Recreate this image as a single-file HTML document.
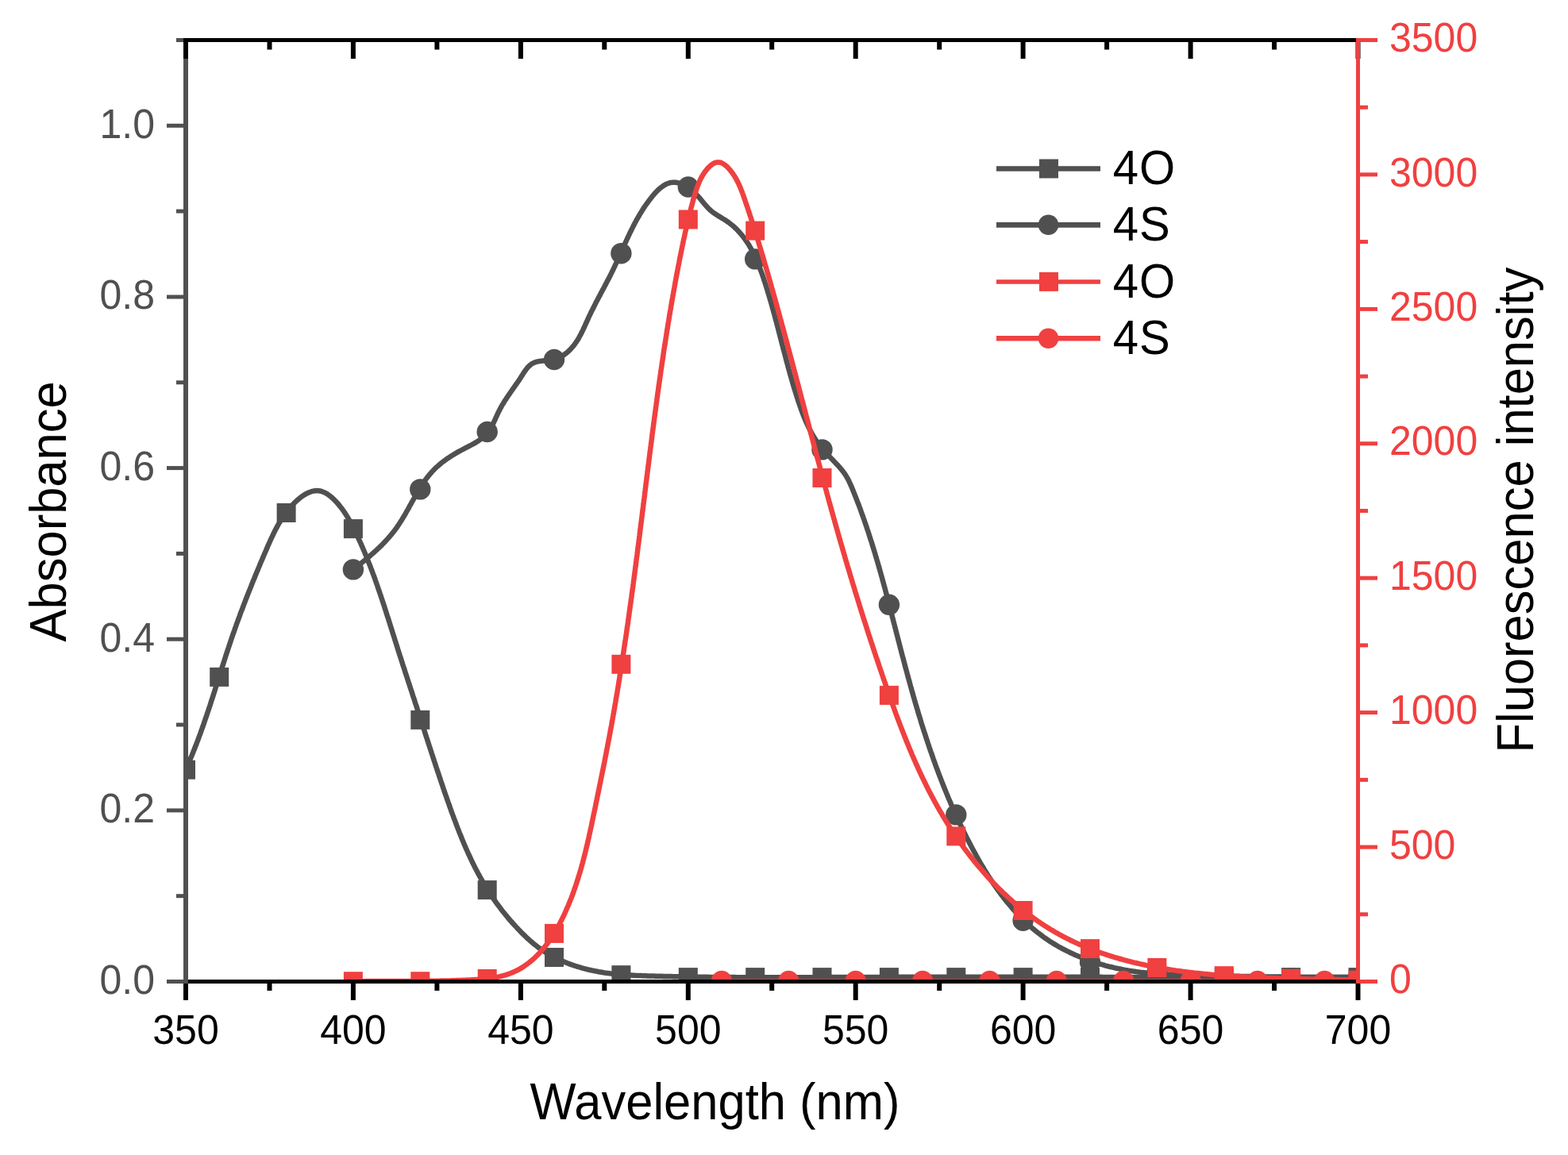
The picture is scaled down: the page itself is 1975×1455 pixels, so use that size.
<!DOCTYPE html>
<html><head><meta charset="utf-8"><title>Absorbance and Fluorescence</title><style>
html,body{margin:0;padding:0;background:#fff;overflow:hidden;}
svg{display:block;}
text{font-family:"Liberation Sans",Arial,sans-serif;}
</style></head><body>
<svg width="1975" height="1455" viewBox="0 0 1975 1455">
<rect width="1975" height="1455" fill="#fff"/>
<defs><clipPath id="pc"><rect x="234" y="50.5" width="1476.5" height="1186"/></clipPath></defs>

<g clip-path="url(#pc)">
<polyline points="233.8,969.6 234.6,967.8 235.5,965.9 236.3,964.1 237.1,962.3 237.9,960.4 238.7,958.6 239.5,956.8 240.2,954.9 241.0,953.1 241.8,951.2 242.5,949.4 243.3,947.5 244.0,945.7 244.8,943.8 245.5,942.0 246.2,940.1 247.0,938.3 247.7,936.4 248.4,934.5 249.1,932.7 249.8,930.8 250.5,928.9 251.2,927.0 251.9,925.2 252.6,923.3 253.2,921.4 253.9,919.5 254.6,917.6 255.3,915.8 255.9,913.9 256.6,912.0 257.2,910.1 257.9,908.2 258.5,906.3 259.2,904.4 259.8,902.5 260.5,900.7 261.1,898.8 261.7,896.9 262.4,895.0 263.0,893.1 263.6,891.2 264.3,889.3 264.9,887.4 265.5,885.5 266.1,883.6 266.7,881.7 267.3,879.8 268.0,877.9 268.6,876.0 269.2,874.1 269.8,872.2 270.4,870.3 271.0,868.4 271.6,866.4 272.2,864.5 272.8,862.6 273.4,860.7 274.0,858.8 274.6,856.9 275.2,855.0 275.8,853.1 276.4,851.2 277.0,849.3 277.6,847.4 278.2,845.5 278.8,843.6 279.4,841.7 280.0,839.8 280.7,837.9 281.3,836.0 281.9,834.1 282.5,832.2 283.1,830.3 283.7,828.4 284.3,826.5 284.9,824.6 285.6,822.7 286.2,820.8 286.8,818.9 287.4,817.0 288.1,815.1 288.7,813.2 289.3,811.3 290.0,809.4 290.6,807.5 291.2,805.6 291.9,803.7 292.5,801.8 293.2,799.9 293.8,798.0 294.5,796.2 295.2,794.3 295.8,792.4 296.5,790.5 297.2,788.6 297.8,786.7 298.5,784.9 299.2,783.0 299.9,781.1 300.6,779.2 301.3,777.4 302.0,775.5 302.6,773.6 303.3,771.7 304.0,769.9 304.8,768.0 305.5,766.1 306.2,764.3 306.9,762.4 307.6,760.5 308.3,758.7 309.0,756.8 309.7,754.9 310.5,753.1 311.2,751.2 311.9,749.3 312.7,747.5 313.4,745.6 314.1,743.8 314.9,741.9 315.6,740.1 316.4,738.2 317.1,736.3 317.8,734.5 318.6,732.6 319.3,730.8 320.1,728.9 320.9,727.1 321.6,725.2 322.4,723.4 323.1,721.5 323.9,719.7 324.7,717.9 325.4,716.0 326.2,714.2 327.0,712.3 327.7,710.5 328.5,708.6 329.3,706.8 330.1,705.0 330.9,703.1 331.6,701.3 332.4,699.4 333.2,697.6 334.0,695.8 334.8,693.9 335.6,692.1 336.4,690.3 337.1,688.4 337.9,686.6 338.8,684.8 339.6,682.9 340.4,681.1 341.2,679.3 342.1,677.5 342.9,675.7 343.8,673.9 344.6,672.1 345.5,670.3 346.4,668.5 347.3,666.7 348.3,665.0 349.2,663.2 350.2,661.4 351.2,659.7 352.2,658.0 353.2,656.3 354.3,654.6 355.3,652.9 356.4,651.2 357.5,649.6 358.7,647.9 359.9,646.3 361.1,644.7 362.3,643.1 363.5,641.6 364.8,640.0 366.1,638.5 367.5,637.0 368.8,635.6 370.2,634.1 371.6,632.7 373.1,631.4 374.6,630.0 376.1,628.7 377.6,627.5 379.2,626.2 380.8,625.0 382.5,623.9 384.2,622.9 385.9,621.9 387.7,621.0 389.5,620.2 391.4,619.5 393.3,618.9 395.3,618.5 397.2,618.2 399.2,618.1 401.2,618.2 403.2,618.5 405.1,619.0 407.0,619.7 408.9,620.5 410.6,621.4 412.3,622.4 414.0,623.6 415.6,624.8 417.1,626.0 418.6,627.3 420.1,628.7 421.5,630.1 422.9,631.5 424.3,633.0 425.6,634.5 426.9,636.0 428.1,637.6 429.4,639.2 430.6,640.7 431.8,642.4 432.9,644.0 434.0,645.6 435.1,647.3 436.2,649.0 437.3,650.7 438.3,652.4 439.3,654.1 440.3,655.9 441.2,657.6 442.2,659.4 443.1,661.2 444.0,662.9 445.0,664.7 445.9,666.5 446.7,668.3 447.6,670.1 448.5,671.9 449.4,673.7 450.2,675.5 451.1,677.3 451.9,679.1 452.7,680.9 453.6,682.7 454.4,684.6 455.2,686.4 456.0,688.2 456.8,690.0 457.6,691.9 458.4,693.7 459.2,695.6 459.9,697.4 460.7,699.2 461.5,701.1 462.2,702.9 462.9,704.8 463.7,706.7 464.4,708.5 465.2,710.4 465.9,712.2 466.6,714.1 467.3,716.0 468.0,717.8 468.7,719.7 469.4,721.6 470.1,723.5 470.8,725.3 471.5,727.2 472.2,729.1 472.8,731.0 473.5,732.9 474.2,734.7 474.8,736.6 475.5,738.5 476.1,740.4 476.8,742.3 477.4,744.2 478.1,746.1 478.7,748.0 479.4,749.9 480.0,751.7 480.6,753.6 481.3,755.5 481.9,757.4 482.5,759.3 483.1,761.2 483.8,763.1 484.4,765.0 485.0,766.9 485.6,768.8 486.2,770.7 486.8,772.6 487.4,774.5 488.0,776.4 488.7,778.3 489.3,780.3 489.9,782.2 490.5,784.1 491.1,786.0 491.7,787.9 492.3,789.8 492.9,791.7 493.5,793.6 494.1,795.5 494.7,797.4 495.3,799.3 495.9,801.2 496.5,803.1 497.1,805.0 497.7,806.9 498.3,808.8 498.9,810.7 499.5,812.6 500.1,814.5 500.7,816.5 501.3,818.4 501.9,820.3 502.5,822.2 503.1,824.1 503.7,826.0 504.4,827.9 505.0,829.8 505.6,831.7 506.2,833.6 506.8,835.5 507.4,837.4 508.0,839.3 508.7,841.2 509.3,843.1 509.9,845.0 510.5,846.9 511.1,848.8 511.7,850.7 512.4,852.6 513.0,854.5 513.6,856.4 514.2,858.3 514.8,860.2 515.5,862.1 516.1,864.0 516.7,865.9 517.3,867.8 518.0,869.7 518.6,871.6 519.2,873.5 519.8,875.4 520.4,877.3 521.1,879.2 521.7,881.1 522.3,883.0 522.9,884.9 523.5,886.8 524.2,888.7 524.8,890.6 525.4,892.5 526.0,894.4 526.7,896.3 527.3,898.2 527.9,900.1 528.5,902.0 529.1,903.9 529.7,905.8 530.4,907.7 531.0,909.6 531.6,911.5 532.2,913.4 532.8,915.3 533.5,917.2 534.1,919.1 534.7,921.0 535.3,922.9 535.9,924.8 536.5,926.7 537.1,928.6 537.8,930.5 538.4,932.4 539.0,934.3 539.6,936.2 540.2,938.1 540.8,940.0 541.5,941.9 542.1,943.8 542.7,945.7 543.3,947.6 543.9,949.5 544.6,951.4 545.2,953.3 545.8,955.2 546.4,957.1 547.0,959.0 547.7,960.9 548.3,962.8 548.9,964.7 549.5,966.6 550.2,968.5 550.8,970.4 551.4,972.3 552.1,974.1 552.7,976.0 553.3,977.9 554.0,979.8 554.6,981.7 555.2,983.6 555.9,985.5 556.5,987.4 557.2,989.3 557.8,991.2 558.4,993.1 559.1,995.0 559.7,996.9 560.4,998.8 561.0,1000.6 561.7,1002.5 562.4,1004.4 563.0,1006.3 563.7,1008.2 564.3,1010.1 565.0,1012.0 565.7,1013.8 566.3,1015.7 567.0,1017.6 567.7,1019.5 568.3,1021.4 569.0,1023.3 569.7,1025.1 570.4,1027.0 571.1,1028.9 571.8,1030.8 572.5,1032.6 573.2,1034.5 573.9,1036.4 574.6,1038.2 575.3,1040.1 576.0,1042.0 576.7,1043.8 577.5,1045.7 578.2,1047.6 578.9,1049.4 579.7,1051.3 580.4,1053.1 581.2,1055.0 581.9,1056.8 582.7,1058.7 583.5,1060.5 584.2,1062.4 585.0,1064.2 585.8,1066.0 586.6,1067.9 587.4,1069.7 588.2,1071.5 589.0,1073.3 589.8,1075.2 590.7,1077.0 591.5,1078.8 592.4,1080.6 593.2,1082.4 594.1,1084.2 594.9,1086.0 595.8,1087.8 596.7,1089.6 597.6,1091.4 598.5,1093.2 599.4,1094.9 600.3,1096.7 601.3,1098.5 602.2,1100.3 603.2,1102.0 604.1,1103.8 605.1,1105.5 606.1,1107.3 607.0,1109.0 608.0,1110.7 609.1,1112.5 610.1,1114.2 611.1,1115.9 612.1,1117.6 613.2,1119.3 614.2,1121.0 615.3,1122.7 616.4,1124.4 617.5,1126.0 618.6,1127.7 619.7,1129.4 620.8,1131.0 621.9,1132.7 623.1,1134.3 624.2,1135.9 625.4,1137.6 626.6,1139.2 627.8,1140.8 629.0,1142.4 630.2,1144.0 631.4,1145.6 632.6,1147.2 633.8,1148.7 635.1,1150.3 636.3,1151.8 637.6,1153.4 638.9,1154.9 640.1,1156.5 641.4,1158.0 642.7,1159.5 644.1,1161.0 645.4,1162.5 646.7,1164.0 648.1,1165.5 649.4,1166.9 650.8,1168.4 652.1,1169.9 653.5,1171.3 654.9,1172.7 656.3,1174.2 657.7,1175.6 659.1,1177.0 660.6,1178.4 662.0,1179.8 663.4,1181.2 664.9,1182.5 666.4,1183.9 667.9,1185.2 669.4,1186.5 670.9,1187.8 672.4,1189.1 674.0,1190.3 675.6,1191.6 677.1,1192.8 678.8,1194.0 680.4,1195.1 682.0,1196.3 683.7,1197.4 685.4,1198.5 687.0,1199.6 688.7,1200.6 690.5,1201.6 692.2,1202.6 693.9,1203.6 695.7,1204.6 697.4,1205.5 699.2,1206.4 701.0,1207.3 702.8,1208.2 704.6,1209.0 706.4,1209.9 708.3,1210.7 710.1,1211.4 712.0,1212.2 713.8,1212.9 715.7,1213.7 717.5,1214.4 719.4,1215.1 721.3,1215.7 723.2,1216.4 725.1,1217.0 727.0,1217.6 728.9,1218.2 730.8,1218.7 732.7,1219.3 734.7,1219.8 736.6,1220.3 738.5,1220.8 740.5,1221.3 742.4,1221.8 744.4,1222.2 746.3,1222.6 748.3,1223.0 750.2,1223.4 752.2,1223.8 754.2,1224.2 756.1,1224.5 758.1,1224.8 760.1,1225.2 762.1,1225.5 764.0,1225.7 766.0,1226.0 768.0,1226.3 770.0,1226.5 772.0,1226.7 774.0,1226.9 775.9,1227.1 777.9,1227.3 779.9,1227.5 781.9,1227.7 783.9,1227.8 785.9,1228.0 787.9,1228.1 789.9,1228.3 791.9,1228.4 793.9,1228.5 795.9,1228.6 797.9,1228.7 799.9,1228.8 801.9,1228.9 803.9,1229.0 805.8,1229.1 807.8,1229.1 809.8,1229.2 811.8,1229.3 813.8,1229.3 815.8,1229.4 817.8,1229.4 819.8,1229.5 821.8,1229.5 823.8,1229.6 825.8,1229.7 827.8,1229.7 829.8,1229.8 831.8,1229.8 833.8,1229.8 835.8,1229.9 837.8,1229.9 839.8,1230.0 841.8,1230.0 843.8,1230.1 845.8,1230.1 847.8,1230.2 849.8,1230.2 851.8,1230.2 853.8,1230.3 855.8,1230.3 857.8,1230.3 859.8,1230.4 861.8,1230.4 863.8,1230.4 865.8,1230.5 867.8,1230.5 869.8,1230.5 871.8,1230.6 873.8,1230.6 875.8,1230.6 877.8,1230.7 879.8,1230.7 881.8,1230.7 883.8,1230.7 885.8,1230.8 887.8,1230.8 889.8,1230.8 891.7,1230.8 893.7,1230.9 895.7,1230.9 897.7,1230.9 899.7,1230.9 901.7,1231.0 903.7,1231.0 905.7,1231.0 907.7,1231.0 909.7,1231.0 911.7,1231.0 913.7,1231.1 915.7,1231.1 917.7,1231.1 919.7,1231.1 921.7,1231.1 923.7,1231.1 925.7,1231.1 927.7,1231.2 929.7,1231.2 931.7,1231.2 933.7,1231.2 935.7,1231.2 937.7,1231.2 939.7,1231.2 941.7,1231.2 943.7,1231.2 945.7,1231.2 947.7,1231.2 949.7,1231.2 951.7,1231.3 953.7,1231.3 955.7,1231.3 957.7,1231.3 959.7,1231.3 961.7,1231.3 963.7,1231.3 965.7,1231.3 967.7,1231.3 969.7,1231.3 971.7,1231.3 973.7,1231.3 975.7,1231.3 977.7,1231.3 979.7,1231.3 981.7,1231.3 983.7,1231.3 985.7,1231.3 987.7,1231.3 989.7,1231.3 991.7,1231.3 993.7,1231.3 995.7,1231.3 997.7,1231.3 999.6,1231.3 1001.6,1231.3 1003.6,1231.3 1005.6,1231.3 1007.6,1231.2 1009.6,1231.2 1011.6,1231.2 1013.6,1231.2 1015.6,1231.2 1017.6,1231.2 1019.6,1231.2 1021.6,1231.2 1023.6,1231.2 1025.6,1231.2 1027.6,1231.2 1029.6,1231.2 1031.6,1231.2 1033.6,1231.2 1035.6,1231.2 1037.6,1231.2 1039.6,1231.2 1041.6,1231.1 1043.6,1231.1 1045.6,1231.1 1047.6,1231.1 1049.6,1231.1 1051.6,1231.1 1053.6,1231.1 1055.6,1231.1 1057.6,1231.1 1059.6,1231.1 1061.6,1231.1 1063.6,1231.1 1065.6,1231.0 1067.6,1231.0 1069.6,1231.0 1071.6,1231.0 1073.6,1231.0 1075.6,1231.0 1077.6,1231.0 1079.6,1231.0 1081.6,1231.0 1083.6,1231.0 1085.6,1231.0 1087.6,1231.0 1089.6,1231.0 1091.6,1230.9 1093.6,1230.9 1095.6,1230.9 1097.6,1230.9 1099.6,1230.9 1101.6,1230.9 1103.6,1230.9 1105.6,1230.9 1107.6,1230.9 1109.5,1230.9 1111.5,1230.9 1113.5,1230.9 1115.5,1230.9 1117.5,1230.9 1119.5,1230.9 1121.5,1230.8 1123.5,1230.8 1125.5,1230.8 1127.5,1230.8 1129.5,1230.8 1131.5,1230.8 1133.5,1230.8 1135.5,1230.8 1137.5,1230.8 1139.5,1230.8 1141.5,1230.8 1143.5,1230.8 1145.5,1230.8 1147.5,1230.8 1149.5,1230.8 1151.5,1230.8 1153.5,1230.8 1155.5,1230.8 1157.5,1230.8 1159.5,1230.8 1161.5,1230.8 1163.5,1230.8 1165.5,1230.8 1167.5,1230.7 1169.5,1230.7 1171.5,1230.7 1173.5,1230.7 1175.5,1230.7 1177.5,1230.7 1179.5,1230.7 1181.5,1230.7 1183.5,1230.7 1185.5,1230.7 1187.5,1230.7 1189.5,1230.7 1191.5,1230.7 1193.5,1230.7 1195.5,1230.7 1197.5,1230.7 1199.5,1230.7 1201.5,1230.7 1203.5,1230.7 1205.5,1230.7 1207.5,1230.7 1209.5,1230.7 1211.5,1230.7 1213.5,1230.7 1215.5,1230.7 1217.5,1230.7 1219.4,1230.7 1221.4,1230.7 1223.4,1230.7 1225.4,1230.7 1227.4,1230.7 1229.4,1230.7 1231.4,1230.7 1233.4,1230.7 1235.4,1230.7 1237.4,1230.7 1239.4,1230.7 1241.4,1230.7 1243.4,1230.7 1245.4,1230.7 1247.4,1230.7 1249.4,1230.7 1251.4,1230.7 1253.4,1230.7 1255.4,1230.7 1257.4,1230.7 1259.4,1230.7 1261.4,1230.7 1263.4,1230.7 1265.4,1230.7 1267.4,1230.7 1269.4,1230.7 1271.4,1230.7 1273.4,1230.7 1275.4,1230.7 1277.4,1230.7 1279.4,1230.7 1281.4,1230.7 1283.4,1230.7 1285.4,1230.7 1287.4,1230.7 1289.4,1230.7 1291.4,1230.7 1293.4,1230.7 1295.4,1230.7 1297.4,1230.7 1299.4,1230.7 1301.4,1230.7 1303.4,1230.7 1305.4,1230.7 1307.4,1230.7 1309.4,1230.7 1311.4,1230.7 1313.4,1230.7 1315.4,1230.7 1317.4,1230.8 1319.4,1230.8 1321.4,1230.8 1323.4,1230.8 1325.4,1230.8 1327.4,1230.8 1329.3,1230.8 1331.3,1230.8 1333.3,1230.8 1335.3,1230.8 1337.3,1230.8 1339.3,1230.8 1341.3,1230.8 1343.3,1230.8 1345.3,1230.8 1347.3,1230.8 1349.3,1230.8 1351.3,1230.8 1353.3,1230.8 1355.3,1230.8 1357.3,1230.8 1359.3,1230.8 1361.3,1230.8 1363.3,1230.8 1365.3,1230.8 1367.3,1230.8 1369.3,1230.8 1371.3,1230.8 1373.3,1230.8 1375.3,1230.8 1377.3,1230.8 1379.3,1230.8 1381.3,1230.8 1383.3,1230.8 1385.3,1230.8 1387.3,1230.8 1389.3,1230.9 1391.3,1230.9 1393.3,1230.9 1395.3,1230.9 1397.3,1230.9 1399.3,1230.9 1401.3,1230.9 1403.3,1230.9 1405.3,1230.9 1407.3,1230.9 1409.3,1230.9 1411.3,1230.9 1413.3,1230.9 1415.3,1230.9 1417.3,1230.9 1419.3,1230.9 1421.3,1230.9 1423.3,1230.9 1425.3,1230.9 1427.3,1230.9 1429.3,1230.9 1431.3,1230.9 1433.3,1230.9 1435.3,1230.9 1437.2,1230.9 1439.2,1230.9 1441.2,1230.9 1443.2,1230.9 1445.2,1230.9 1447.2,1230.9 1449.2,1230.9 1451.2,1230.9 1453.2,1231.0 1455.2,1231.0 1457.2,1231.0 1459.2,1231.0 1461.2,1231.0 1463.2,1231.0 1465.2,1231.0 1467.2,1231.0 1469.2,1231.0 1471.2,1231.0 1473.2,1231.0 1475.2,1231.0 1477.2,1231.0 1479.2,1231.0 1481.2,1231.0 1483.2,1231.0 1485.2,1231.0 1487.2,1231.0 1489.2,1231.0 1491.2,1231.0 1493.2,1231.0 1495.2,1231.0 1497.2,1231.0 1499.2,1231.0 1501.2,1231.0 1503.2,1231.0 1505.2,1231.0 1507.2,1231.0 1509.2,1231.0 1511.2,1231.0 1513.2,1231.0 1515.2,1231.0 1517.2,1231.0 1519.2,1231.0 1521.2,1231.0 1523.2,1231.0 1525.2,1231.0 1527.2,1231.0 1529.2,1231.0 1531.2,1231.0 1533.2,1231.0 1535.2,1231.0 1537.2,1231.1 1539.2,1231.1 1541.2,1231.1 1543.2,1231.1 1545.2,1231.1 1547.1,1231.1 1549.1,1231.1 1551.1,1231.1 1553.1,1231.1 1555.1,1231.1 1557.1,1231.1 1559.1,1231.1 1561.1,1231.1 1563.1,1231.1 1565.1,1231.1 1567.1,1231.1 1569.1,1231.1 1571.1,1231.1 1573.1,1231.1 1575.1,1231.1 1577.1,1231.1 1579.1,1231.1 1581.1,1231.1 1583.1,1231.1 1585.1,1231.1 1587.1,1231.1 1589.1,1231.1 1591.1,1231.1 1593.1,1231.1 1595.1,1231.1 1597.1,1231.1 1599.1,1231.1 1601.1,1231.1 1603.1,1231.1 1605.1,1231.1 1607.1,1231.1 1609.1,1231.1 1611.1,1231.1 1613.1,1231.1 1615.1,1231.1 1617.1,1231.1 1619.1,1231.1 1621.1,1231.1 1623.1,1231.0 1625.1,1231.0 1627.1,1231.0 1629.1,1231.0 1631.1,1231.0 1633.1,1231.0 1635.1,1231.0 1637.1,1231.0 1639.1,1231.0 1641.1,1231.0 1643.1,1231.0 1645.1,1231.0 1647.1,1231.0 1649.1,1231.0 1651.1,1231.0 1653.1,1231.0 1655.1,1231.0 1657.0,1231.0 1659.0,1231.0 1661.0,1231.0 1663.0,1231.0 1665.0,1231.0 1667.0,1231.0 1669.0,1231.0 1671.0,1231.0 1673.0,1231.0 1675.0,1231.0 1677.0,1231.0 1679.0,1231.0 1681.0,1231.0 1683.0,1231.0 1685.0,1230.9 1687.0,1230.9 1689.0,1230.9 1691.0,1230.9 1693.0,1230.9 1695.0,1230.9 1697.0,1230.9 1699.0,1230.9 1701.0,1230.9 1703.0,1230.9 1705.0,1230.9 1707.0,1230.9 1709.0,1230.9 1711.0,1230.9" fill="none" stroke="#505050" stroke-width="6.5" stroke-linejoin="round"/>
<rect x="222.0" y="957.7" width="24" height="24" fill="#505050"/><rect x="264.2" y="840.9" width="24" height="24" fill="#505050"/><rect x="348.6" y="634.0" width="24" height="24" fill="#505050"/><rect x="432.9" y="654.1" width="24" height="24" fill="#505050"/><rect x="517.3" y="894.9" width="24" height="24" fill="#505050"/><rect x="601.7" y="1109.1" width="24" height="24" fill="#505050"/><rect x="686.0" y="1194.0" width="24" height="24" fill="#505050"/><rect x="770.4" y="1216.2" width="24" height="24" fill="#505050"/><rect x="854.8" y="1219.1" width="24" height="24" fill="#505050"/><rect x="939.2" y="1219.1" width="24" height="24" fill="#505050"/><rect x="1023.5" y="1219.1" width="24" height="24" fill="#505050"/><rect x="1107.9" y="1219.1" width="24" height="24" fill="#505050"/><rect x="1192.3" y="1219.1" width="24" height="24" fill="#505050"/><rect x="1276.6" y="1219.1" width="24" height="24" fill="#505050"/><rect x="1361.0" y="1219.1" width="24" height="24" fill="#505050"/><rect x="1445.4" y="1219.1" width="24" height="24" fill="#505050"/><rect x="1529.8" y="1219.1" width="24" height="24" fill="#505050"/><rect x="1614.1" y="1219.1" width="24" height="24" fill="#505050"/><rect x="1698.5" y="1219.1" width="24" height="24" fill="#505050"/>
<polyline points="444.9,717.4 446.4,716.1 448.0,714.9 449.6,713.7 451.1,712.4 452.7,711.2 454.3,709.9 455.8,708.7 457.4,707.4 458.9,706.2 460.5,704.9 462.0,703.6 463.6,702.3 465.1,701.0 466.6,699.7 468.1,698.4 469.6,697.1 471.1,695.8 472.6,694.4 474.1,693.1 475.5,691.7 477.0,690.4 478.4,689.0 479.9,687.6 481.3,686.2 482.7,684.8 484.1,683.3 485.5,681.9 486.8,680.4 488.2,678.9 489.5,677.4 490.8,675.9 492.1,674.4 493.4,672.9 494.6,671.3 495.9,669.7 497.1,668.1 498.3,666.5 499.5,664.9 500.6,663.3 501.7,661.6 502.8,660.0 503.9,658.3 505.0,656.6 506.1,654.9 507.1,653.2 508.1,651.5 509.2,649.8 510.2,648.0 511.2,646.3 512.1,644.6 513.1,642.8 514.1,641.1 515.1,639.3 516.0,637.6 517.0,635.8 518.0,634.1 518.9,632.3 519.9,630.6 520.9,628.8 521.9,627.1 522.8,625.3 523.8,623.6 524.8,621.9 525.8,620.1 526.8,618.4 527.9,616.7 528.9,615.0 530.0,613.3 531.1,611.6 532.1,609.9 533.3,608.3 534.4,606.6 535.5,605.0 536.7,603.4 537.9,601.8 539.1,600.2 540.4,598.6 541.7,597.1 543.0,595.6 544.3,594.1 545.7,592.6 547.1,591.2 548.5,589.8 550.0,588.4 551.5,587.1 553.0,585.8 554.5,584.5 556.0,583.2 557.6,582.0 559.2,580.8 560.8,579.6 562.5,578.4 564.1,577.3 565.8,576.2 567.4,575.1 569.1,574.0 570.8,573.0 572.5,571.9 574.3,570.9 576.0,569.9 577.7,568.9 579.5,568.0 581.3,567.0 583.0,566.1 584.8,565.2 586.6,564.2 588.3,563.3 590.1,562.4 591.9,561.5 593.7,560.5 595.4,559.6 597.2,558.6 598.9,557.6 600.6,556.6 602.3,555.5 603.9,554.4 605.6,553.2 607.1,552.0 608.7,550.7 610.2,549.4 611.6,548.0 613.0,546.5 614.2,545.0 615.4,543.4 616.6,541.7 617.7,540.0 618.7,538.3 619.6,536.6 620.6,534.8 621.5,533.0 622.3,531.2 623.2,529.4 624.0,527.6 624.8,525.7 625.7,523.9 626.5,522.1 627.3,520.3 628.2,518.5 629.1,516.7 630.0,514.9 631.0,513.2 631.9,511.4 632.9,509.7 634.0,508.0 635.0,506.3 636.1,504.6 637.2,502.9 638.3,501.2 639.4,499.6 640.5,497.9 641.6,496.3 642.8,494.6 643.9,493.0 645.1,491.3 646.2,489.7 647.4,488.1 648.5,486.4 649.7,484.8 650.8,483.2 652.0,481.5 653.1,479.9 654.2,478.2 655.3,476.5 656.4,474.8 657.4,473.2 658.5,471.5 659.6,469.8 660.7,468.1 661.9,466.5 663.1,464.9 664.3,463.3 665.7,461.8 667.1,460.5 668.6,459.2 670.3,458.1 672.1,457.2 673.9,456.4 675.8,455.8 677.8,455.4 679.8,455.0 681.7,454.8 683.7,454.5 685.7,454.4 687.7,454.2 689.7,454.0 691.7,453.8 693.7,453.5 695.7,453.2 697.6,452.8 699.5,452.3 701.4,451.7 703.3,450.9 705.1,450.1 706.9,449.2 708.6,448.1 710.3,447.1 711.9,445.9 713.5,444.7 715.0,443.4 716.5,442.0 717.9,440.6 719.3,439.2 720.6,437.7 721.9,436.1 723.2,434.6 724.3,433.0 725.5,431.3 726.6,429.7 727.7,428.0 728.7,426.3 729.7,424.5 730.6,422.8 731.6,421.0 732.5,419.2 733.4,417.4 734.3,415.6 735.1,413.8 736.0,412.0 736.8,410.2 737.6,408.4 738.4,406.5 739.3,404.7 740.1,402.9 740.9,401.1 741.7,399.3 742.6,397.4 743.5,395.6 744.3,393.8 745.2,392.0 746.1,390.3 747.0,388.5 747.9,386.7 748.8,384.9 749.7,383.1 750.6,381.3 751.5,379.6 752.5,377.8 753.4,376.0 754.3,374.2 755.3,372.5 756.2,370.7 757.1,368.9 758.1,367.2 759.0,365.4 760.0,363.6 760.9,361.9 761.8,360.1 762.8,358.3 763.7,356.6 764.6,354.8 765.5,353.0 766.5,351.3 767.4,349.5 768.3,347.7 769.2,345.9 770.1,344.1 771.0,342.3 771.9,340.5 772.7,338.7 773.6,336.9 774.4,335.1 775.3,333.3 776.1,331.5 777.0,329.7 777.8,327.9 778.6,326.0 779.5,324.2 780.3,322.4 781.1,320.6 781.9,318.7 782.7,316.9 783.5,315.1 784.4,313.3 785.2,311.4 786.0,309.6 786.8,307.8 787.6,306.0 788.5,304.1 789.3,302.3 790.1,300.5 791.0,298.7 791.8,296.9 792.7,295.1 793.5,293.3 794.4,291.5 795.3,289.7 796.2,287.9 797.1,286.1 798.0,284.3 798.9,282.5 799.8,280.8 800.8,279.0 801.7,277.3 802.7,275.5 803.7,273.8 804.7,272.0 805.7,270.3 806.7,268.6 807.8,266.9 808.9,265.2 809.9,263.5 811.0,261.8 812.1,260.2 813.3,258.5 814.4,256.9 815.6,255.3 816.8,253.6 818.0,252.0 819.2,250.5 820.4,248.9 821.7,247.3 822.9,245.8 824.2,244.3 825.6,242.8 827.0,241.3 828.4,239.9 829.8,238.5 831.3,237.2 832.9,236.0 834.5,234.8 836.1,233.6 837.9,232.6 839.6,231.7 841.5,231.0 843.4,230.4 845.3,229.9 847.3,229.7 849.3,229.7 851.3,229.8 853.3,230.2 855.2,230.7 857.1,231.3 859.0,232.0 860.8,232.9 862.6,233.8 864.3,234.8 866.0,235.9 867.6,237.0 869.3,238.2 870.8,239.4 872.4,240.7 873.9,242.0 875.3,243.4 876.8,244.7 878.2,246.2 879.6,247.6 880.9,249.1 882.2,250.6 883.5,252.2 884.7,253.7 886.0,255.3 887.3,256.8 888.6,258.3 889.9,259.8 891.2,261.3 892.6,262.8 894.1,264.2 895.5,265.5 897.1,266.8 898.7,268.0 900.3,269.1 902.0,270.2 903.7,271.3 905.4,272.4 907.1,273.4 908.8,274.4 910.5,275.5 912.2,276.5 913.9,277.6 915.6,278.7 917.2,279.8 918.8,281.0 920.4,282.3 921.9,283.5 923.5,284.8 925.0,286.1 926.4,287.5 927.9,288.9 929.3,290.3 930.6,291.8 932.0,293.3 933.3,294.8 934.6,296.3 935.8,297.9 937.0,299.5 938.2,301.1 939.4,302.7 940.5,304.4 941.6,306.0 942.7,307.7 943.7,309.4 944.7,311.1 945.7,312.9 946.7,314.6 947.6,316.4 948.5,318.2 949.4,320.0 950.3,321.8 951.2,323.6 952.0,325.4 952.8,327.2 953.6,329.0 954.4,330.9 955.1,332.7 955.9,334.6 956.6,336.5 957.3,338.3 958.0,340.2 958.7,342.1 959.4,344.0 960.1,345.8 960.7,347.7 961.4,349.6 962.0,351.5 962.6,353.4 963.3,355.3 963.9,357.2 964.5,359.1 965.1,361.0 965.7,362.9 966.3,364.9 966.9,366.8 967.4,368.7 968.0,370.6 968.6,372.5 969.2,374.4 969.7,376.3 970.3,378.3 970.9,380.2 971.4,382.1 972.0,384.0 972.5,386.0 973.0,387.9 973.6,389.8 974.1,391.7 974.6,393.7 975.2,395.6 975.7,397.5 976.2,399.5 976.7,401.4 977.2,403.3 977.8,405.3 978.3,407.2 978.8,409.1 979.3,411.1 979.8,413.0 980.3,414.9 980.8,416.9 981.3,418.8 981.8,420.7 982.3,422.7 982.8,424.6 983.3,426.5 983.8,428.5 984.3,430.4 984.8,432.3 985.3,434.3 985.8,436.2 986.3,438.1 986.8,440.1 987.4,442.0 987.9,444.0 988.4,445.9 988.9,447.8 989.4,449.8 989.9,451.7 990.4,453.6 990.9,455.6 991.4,457.5 992.0,459.4 992.5,461.4 993.0,463.3 993.5,465.2 994.1,467.1 994.6,469.1 995.1,471.0 995.7,472.9 996.2,474.8 996.8,476.8 997.3,478.7 997.9,480.6 998.4,482.5 999.0,484.4 999.6,486.4 1000.1,488.3 1000.7,490.2 1001.3,492.1 1001.9,494.0 1002.5,495.9 1003.1,497.8 1003.7,499.7 1004.3,501.6 1004.9,503.6 1005.5,505.5 1006.2,507.3 1006.8,509.2 1007.5,511.1 1008.1,513.0 1008.8,514.9 1009.5,516.8 1010.2,518.7 1010.9,520.5 1011.6,522.4 1012.3,524.3 1013.1,526.1 1013.9,528.0 1014.6,529.8 1015.4,531.6 1016.3,533.5 1017.1,535.3 1018.0,537.1 1018.8,538.9 1019.7,540.7 1020.6,542.4 1021.6,544.2 1022.6,546.0 1023.5,547.7 1024.5,549.4 1025.6,551.1 1026.6,552.8 1027.7,554.5 1028.8,556.2 1030.0,557.8 1031.1,559.5 1032.3,561.1 1033.5,562.6 1034.8,564.2 1036.1,565.8 1037.4,567.3 1038.7,568.8 1040.0,570.2 1041.4,571.7 1042.8,573.2 1044.2,574.6 1045.6,576.0 1047.0,577.5 1048.4,578.9 1049.7,580.3 1051.1,581.8 1052.5,583.2 1053.9,584.7 1055.3,586.1 1056.6,587.6 1057.9,589.1 1059.2,590.6 1060.5,592.2 1061.7,593.8 1062.9,595.4 1064.1,597.0 1065.2,598.7 1066.2,600.4 1067.2,602.1 1068.2,603.9 1069.1,605.6 1069.9,607.4 1070.8,609.3 1071.6,611.1 1072.4,612.9 1073.2,614.8 1073.9,616.6 1074.7,618.5 1075.4,620.3 1076.2,622.2 1076.9,624.0 1077.7,625.9 1078.4,627.8 1079.1,629.6 1079.8,631.5 1080.5,633.4 1081.3,635.2 1082.0,637.1 1082.7,639.0 1083.4,640.8 1084.1,642.7 1084.7,644.6 1085.4,646.5 1086.1,648.4 1086.8,650.2 1087.4,652.1 1088.1,654.0 1088.8,655.9 1089.4,657.8 1090.1,659.7 1090.7,661.6 1091.4,663.5 1092.0,665.4 1092.6,667.3 1093.3,669.2 1093.9,671.1 1094.5,673.0 1095.1,674.9 1095.7,676.8 1096.3,678.7 1096.9,680.6 1097.6,682.5 1098.2,684.4 1098.7,686.3 1099.3,688.2 1099.9,690.1 1100.5,692.0 1101.1,693.9 1101.7,695.9 1102.3,697.8 1102.8,699.7 1103.4,701.6 1104.0,703.5 1104.5,705.4 1105.1,707.4 1105.7,709.3 1106.2,711.2 1106.8,713.1 1107.3,715.1 1107.9,717.0 1108.4,718.9 1109.0,720.8 1109.5,722.8 1110.0,724.7 1110.6,726.6 1111.1,728.5 1111.6,730.5 1112.2,732.4 1112.7,734.3 1113.2,736.2 1113.7,738.2 1114.3,740.1 1114.8,742.0 1115.3,744.0 1115.8,745.9 1116.3,747.8 1116.9,749.8 1117.4,751.7 1117.9,753.6 1118.4,755.6 1118.9,757.5 1119.4,759.4 1119.9,761.4 1120.4,763.3 1120.9,765.2 1121.4,767.2 1121.9,769.1 1122.4,771.0 1122.9,773.0 1123.4,774.9 1123.9,776.9 1124.4,778.8 1124.9,780.7 1125.4,782.7 1125.9,784.6 1126.4,786.5 1126.9,788.5 1127.4,790.4 1127.9,792.3 1128.4,794.3 1128.9,796.2 1129.4,798.2 1129.9,800.1 1130.4,802.0 1130.9,804.0 1131.4,805.9 1131.9,807.8 1132.4,809.8 1132.9,811.7 1133.4,813.7 1133.9,815.6 1134.4,817.5 1134.9,819.5 1135.4,821.4 1135.9,823.3 1136.4,825.3 1136.9,827.2 1137.5,829.1 1138.0,831.1 1138.5,833.0 1139.0,834.9 1139.5,836.9 1140.0,838.8 1140.5,840.7 1141.0,842.7 1141.6,844.6 1142.1,846.5 1142.6,848.5 1143.1,850.4 1143.6,852.3 1144.2,854.3 1144.7,856.2 1145.2,858.1 1145.8,860.0 1146.3,862.0 1146.8,863.9 1147.4,865.8 1147.9,867.7 1148.4,869.7 1149.0,871.6 1149.5,873.5 1150.1,875.4 1150.6,877.4 1151.2,879.3 1151.7,881.2 1152.3,883.1 1152.8,885.1 1153.4,887.0 1154.0,888.9 1154.5,890.8 1155.1,892.7 1155.7,894.6 1156.2,896.6 1156.8,898.5 1157.4,900.4 1158.0,902.3 1158.6,904.2 1159.2,906.1 1159.7,908.0 1160.3,910.0 1160.9,911.9 1161.5,913.8 1162.1,915.7 1162.7,917.6 1163.3,919.5 1163.9,921.4 1164.6,923.3 1165.2,925.2 1165.8,927.1 1166.4,929.0 1167.0,930.9 1167.7,932.8 1168.3,934.7 1168.9,936.6 1169.6,938.5 1170.2,940.4 1170.8,942.3 1171.5,944.2 1172.1,946.1 1172.8,948.0 1173.5,949.8 1174.1,951.7 1174.8,953.6 1175.4,955.5 1176.1,957.4 1176.8,959.3 1177.5,961.2 1178.1,963.0 1178.8,964.9 1179.5,966.8 1180.2,968.7 1180.9,970.5 1181.6,972.4 1182.3,974.3 1183.0,976.2 1183.7,978.0 1184.5,979.9 1185.2,981.8 1185.9,983.6 1186.6,985.5 1187.4,987.4 1188.1,989.2 1188.8,991.1 1189.6,992.9 1190.3,994.8 1191.1,996.6 1191.8,998.5 1192.6,1000.3 1193.4,1002.2 1194.1,1004.0 1194.9,1005.9 1195.7,1007.7 1196.5,1009.6 1197.3,1011.4 1198.0,1013.2 1198.8,1015.1 1199.6,1016.9 1200.4,1018.7 1201.3,1020.6 1202.1,1022.4 1202.9,1024.2 1203.7,1026.0 1204.5,1027.9 1205.4,1029.7 1206.2,1031.5 1207.1,1033.3 1207.9,1035.1 1208.7,1036.9 1209.6,1038.7 1210.5,1040.5 1211.3,1042.3 1212.2,1044.1 1213.1,1045.9 1214.0,1047.7 1214.8,1049.5 1215.7,1051.3 1216.6,1053.1 1217.5,1054.9 1218.4,1056.7 1219.3,1058.5 1220.3,1060.2 1221.2,1062.0 1222.1,1063.8 1223.0,1065.6 1224.0,1067.3 1224.9,1069.1 1225.8,1070.9 1226.8,1072.6 1227.8,1074.4 1228.7,1076.1 1229.7,1077.9 1230.7,1079.6 1231.6,1081.4 1232.6,1083.1 1233.6,1084.8 1234.6,1086.6 1235.6,1088.3 1236.6,1090.0 1237.7,1091.7 1238.7,1093.5 1239.7,1095.2 1240.8,1096.9 1241.8,1098.6 1242.9,1100.3 1244.0,1102.0 1245.0,1103.6 1246.1,1105.3 1247.2,1107.0 1248.3,1108.7 1249.4,1110.3 1250.5,1112.0 1251.6,1113.7 1252.8,1115.3 1253.9,1116.9 1255.1,1118.6 1256.2,1120.2 1257.4,1121.8 1258.6,1123.5 1259.8,1125.1 1261.0,1126.7 1262.2,1128.3 1263.4,1129.9 1264.6,1131.4 1265.8,1133.0 1267.1,1134.6 1268.3,1136.1 1269.6,1137.7 1270.9,1139.2 1272.2,1140.7 1273.5,1142.3 1274.8,1143.8 1276.1,1145.3 1277.4,1146.8 1278.8,1148.3 1280.1,1149.7 1281.5,1151.2 1282.9,1152.6 1284.2,1154.1 1285.6,1155.5 1287.0,1156.9 1288.5,1158.4 1289.9,1159.7 1291.3,1161.1 1292.8,1162.5 1294.3,1163.9 1295.7,1165.2 1297.2,1166.5 1298.7,1167.9 1300.2,1169.2 1301.8,1170.5 1303.3,1171.8 1304.8,1173.0 1306.4,1174.3 1308.0,1175.5 1309.6,1176.7 1311.2,1177.9 1312.8,1179.1 1314.4,1180.3 1316.0,1181.5 1317.6,1182.6 1319.3,1183.7 1321.0,1184.9 1322.6,1185.9 1324.3,1187.0 1326.0,1188.1 1327.7,1189.1 1329.4,1190.2 1331.2,1191.2 1332.9,1192.2 1334.6,1193.2 1336.4,1194.1 1338.1,1195.1 1339.9,1196.0 1341.7,1196.9 1343.5,1197.8 1345.3,1198.7 1347.1,1199.6 1348.9,1200.5 1350.7,1201.3 1352.5,1202.1 1354.3,1203.0 1356.2,1203.8 1358.0,1204.5 1359.8,1205.3 1361.7,1206.1 1363.5,1206.8 1365.4,1207.5 1367.3,1208.3 1369.1,1209.0 1371.0,1209.6 1372.9,1210.3 1374.8,1211.0 1376.7,1211.6 1378.6,1212.2 1380.5,1212.9 1382.4,1213.5 1384.3,1214.0 1386.2,1214.6 1388.2,1215.2 1390.1,1215.7 1392.0,1216.3 1393.9,1216.8 1395.9,1217.3 1397.8,1217.8 1399.8,1218.2 1401.7,1218.7 1403.6,1219.2 1405.6,1219.6 1407.6,1220.0 1409.5,1220.4 1411.5,1220.8 1413.4,1221.2 1415.4,1221.6 1417.4,1222.0 1419.3,1222.3 1421.3,1222.6 1423.3,1223.0 1425.3,1223.3 1427.2,1223.6 1429.2,1223.8 1431.2,1224.1 1433.2,1224.4 1435.2,1224.6 1437.1,1224.9 1439.1,1225.1 1441.1,1225.3 1443.1,1225.5 1445.1,1225.7 1447.1,1225.9 1449.1,1226.1 1451.1,1226.3 1453.1,1226.5 1455.1,1226.6 1457.1,1226.8 1459.1,1226.9 1461.0,1227.0 1463.0,1227.2 1465.0,1227.3 1467.0,1227.4 1469.0,1227.5 1471.0,1227.6 1473.0,1227.7 1475.0,1227.8 1477.0,1227.9 1479.0,1228.0 1481.0,1228.0 1483.0,1228.1 1485.0,1228.2 1487.0,1228.2 1489.0,1228.3 1491.0,1228.3 1493.0,1228.4 1495.0,1228.5 1497.0,1228.5 1499.0,1228.6 1501.0,1228.6 1503.0,1228.6 1505.0,1228.7 1507.0,1228.7 1509.0,1228.8 1511.0,1228.8 1513.0,1228.9 1515.0,1228.9 1517.0,1228.9 1519.0,1229.0 1521.0,1229.0 1523.0,1229.1 1525.0,1229.1 1527.0,1229.2 1529.0,1229.2 1531.0,1229.2 1533.0,1229.3 1535.0,1229.3 1537.0,1229.4 1539.0,1229.4 1541.0,1229.4 1543.0,1229.5 1545.0,1229.5 1547.0,1229.6 1549.0,1229.6 1551.0,1229.6 1553.0,1229.7 1555.0,1229.7 1557.0,1229.8 1559.0,1229.8 1561.0,1229.8 1563.0,1229.9 1565.0,1229.9 1567.0,1229.9 1569.0,1230.0 1571.0,1230.0 1573.0,1230.0 1575.0,1230.1 1577.0,1230.1 1579.0,1230.1 1581.0,1230.2 1583.0,1230.2 1585.0,1230.2 1587.0,1230.3 1589.0,1230.3 1591.0,1230.3 1593.0,1230.4 1595.0,1230.4 1597.0,1230.4 1599.0,1230.5 1601.0,1230.5 1603.0,1230.5 1605.0,1230.5 1607.0,1230.6 1609.0,1230.6 1611.0,1230.6 1613.0,1230.6 1615.0,1230.7 1617.0,1230.7 1619.0,1230.7 1621.0,1230.7 1623.0,1230.7 1625.0,1230.8 1627.0,1230.8 1629.0,1230.8 1631.0,1230.8 1633.0,1230.8 1635.0,1230.9 1637.0,1230.9 1639.0,1230.9 1641.0,1230.9 1643.0,1230.9 1645.0,1230.9 1647.0,1230.9 1649.0,1230.9 1651.0,1231.0 1653.0,1231.0 1655.0,1231.0 1657.0,1231.0 1659.0,1231.0 1661.0,1231.0 1663.0,1231.0 1665.0,1231.0 1667.0,1231.0 1669.0,1231.0 1671.0,1231.0 1673.0,1231.0 1675.0,1231.0 1677.0,1231.0 1679.0,1231.0 1681.0,1231.0 1683.0,1231.0 1685.0,1231.0 1687.0,1231.0 1689.0,1231.0 1691.0,1230.9 1693.0,1230.9 1695.0,1230.9 1697.0,1230.9 1699.0,1230.9 1701.0,1230.9 1703.0,1230.9 1705.0,1230.8 1707.0,1230.8 1709.0,1230.8 1711.0,1230.8" fill="none" stroke="#505050" stroke-width="6.5" stroke-linejoin="round"/>
<circle cx="444.9" cy="717.4" r="13.2" fill="#505050"/><circle cx="529.3" cy="616.4" r="13.2" fill="#505050"/><circle cx="613.7" cy="544.0" r="13.2" fill="#505050"/><circle cx="698.0" cy="453.0" r="13.2" fill="#505050"/><circle cx="782.4" cy="319.2" r="13.2" fill="#505050"/><circle cx="866.8" cy="235.5" r="13.2" fill="#505050"/><circle cx="951.2" cy="326.4" r="13.2" fill="#505050"/><circle cx="1035.5" cy="566.4" r="13.2" fill="#505050"/><circle cx="1119.9" cy="761.8" r="13.2" fill="#505050"/><circle cx="1204.3" cy="1026.4" r="13.2" fill="#505050"/><circle cx="1288.6" cy="1159.7" r="13.2" fill="#505050"/><circle cx="1373.0" cy="1212.0" r="13.2" fill="#505050"/><circle cx="1457.4" cy="1225.5" r="13.2" fill="#505050"/><circle cx="1541.8" cy="1231.5" r="13.2" fill="#505050"/><circle cx="1626.1" cy="1232.5" r="13.2" fill="#505050"/><circle cx="1710.5" cy="1232.5" r="13.2" fill="#505050"/>
<polyline points="444.9,1236.3 446.9,1236.3 448.9,1236.3 450.9,1236.2 452.9,1236.2 454.9,1236.2 456.9,1236.2 458.9,1236.2 460.9,1236.1 462.9,1236.1 464.9,1236.1 466.9,1236.1 468.9,1236.1 470.9,1236.1 472.9,1236.1 474.9,1236.1 476.9,1236.0 478.8,1236.0 480.8,1236.0 482.8,1236.0 484.8,1236.0 486.8,1236.0 488.8,1236.0 490.8,1236.0 492.8,1236.0 494.8,1236.0 496.8,1236.0 498.8,1236.0 500.8,1236.0 502.8,1236.0 504.8,1236.0 506.8,1236.0 508.8,1236.0 510.8,1236.0 512.8,1236.0 514.8,1236.0 516.8,1236.0 518.8,1236.0 520.8,1236.0 522.8,1235.9 524.8,1235.9 526.8,1235.9 528.8,1235.9 530.8,1235.9 532.8,1235.9 534.8,1235.9 536.8,1235.9 538.8,1235.8 540.8,1235.8 542.8,1235.8 544.8,1235.8 546.8,1235.7 548.8,1235.7 550.8,1235.7 552.8,1235.7 554.8,1235.6 556.8,1235.6 558.8,1235.5 560.8,1235.5 562.8,1235.5 564.8,1235.4 566.8,1235.4 568.8,1235.3 570.8,1235.2 572.8,1235.2 574.8,1235.1 576.8,1235.1 578.8,1235.0 580.8,1234.9 582.8,1234.8 584.8,1234.8 586.8,1234.7 588.8,1234.6 590.8,1234.5 592.8,1234.4 594.7,1234.3 596.7,1234.2 598.7,1234.1 600.7,1234.0 602.7,1233.8 604.7,1233.7 606.7,1233.5 608.7,1233.3 610.7,1233.1 612.7,1232.9 614.7,1232.7 616.6,1232.4 618.6,1232.2 620.6,1231.8 622.6,1231.5 624.5,1231.2 626.5,1230.8 628.5,1230.4 630.4,1229.9 632.3,1229.5 634.3,1228.9 636.2,1228.4 638.1,1227.8 640.0,1227.2 641.9,1226.5 643.8,1225.8 645.6,1225.0 647.4,1224.2 649.2,1223.4 651.0,1222.5 652.8,1221.6 654.6,1220.6 656.3,1219.6 658.0,1218.6 659.7,1217.5 661.3,1216.4 663.0,1215.2 664.6,1214.0 666.2,1212.8 667.7,1211.6 669.3,1210.3 670.8,1209.0 672.3,1207.7 673.8,1206.3 675.2,1204.9 676.6,1203.5 678.0,1202.1 679.4,1200.7 680.7,1199.2 682.1,1197.7 683.4,1196.2 684.7,1194.6 685.9,1193.1 687.2,1191.5 688.4,1189.9 689.6,1188.3 690.8,1186.7 691.9,1185.1 693.1,1183.5 694.2,1181.8 695.3,1180.1 696.4,1178.4 697.4,1176.8 698.5,1175.1 699.5,1173.3 700.5,1171.6 701.5,1169.9 702.5,1168.1 703.5,1166.4 704.4,1164.6 705.3,1162.9 706.3,1161.1 707.2,1159.3 708.1,1157.5 708.9,1155.7 709.8,1153.9 710.7,1152.1 711.5,1150.3 712.3,1148.5 713.1,1146.7 713.9,1144.8 714.7,1143.0 715.5,1141.2 716.3,1139.3 717.0,1137.5 717.8,1135.6 718.5,1133.8 719.3,1131.9 720.0,1130.0 720.7,1128.2 721.4,1126.3 722.1,1124.4 722.7,1122.5 723.4,1120.6 724.1,1118.8 724.7,1116.9 725.4,1115.0 726.0,1113.1 726.6,1111.2 727.2,1109.3 727.8,1107.4 728.4,1105.5 729.0,1103.6 729.6,1101.6 730.2,1099.7 730.8,1097.8 731.3,1095.9 731.9,1094.0 732.4,1092.0 732.9,1090.1 733.5,1088.2 734.0,1086.3 734.5,1084.3 735.0,1082.4 735.5,1080.5 736.0,1078.5 736.5,1076.6 737.0,1074.7 737.5,1072.7 737.9,1070.8 738.4,1068.8 738.9,1066.9 739.3,1064.9 739.8,1063.0 740.2,1061.0 740.7,1059.1 741.1,1057.2 741.6,1055.2 742.0,1053.2 742.4,1051.3 742.9,1049.3 743.3,1047.4 743.7,1045.4 744.1,1043.5 744.6,1041.5 745.0,1039.6 745.4,1037.6 745.8,1035.7 746.2,1033.7 746.6,1031.8 747.0,1029.8 747.4,1027.8 747.8,1025.9 748.3,1023.9 748.7,1022.0 749.1,1020.0 749.5,1018.1 749.9,1016.1 750.3,1014.1 750.7,1012.2 751.1,1010.2 751.5,1008.3 751.9,1006.3 752.3,1004.4 752.7,1002.4 753.1,1000.4 753.5,998.5 753.9,996.5 754.3,994.6 754.7,992.6 755.1,990.7 755.5,988.7 755.9,986.7 756.3,984.8 756.7,982.8 757.1,980.9 757.5,978.9 757.9,976.9 758.3,975.0 758.7,973.0 759.1,971.1 759.5,969.1 759.9,967.1 760.3,965.2 760.7,963.2 761.1,961.3 761.5,959.3 761.8,957.3 762.2,955.4 762.6,953.4 763.0,951.5 763.4,949.5 763.8,947.5 764.1,945.6 764.5,943.6 764.9,941.7 765.3,939.7 765.7,937.7 766.0,935.8 766.4,933.8 766.8,931.8 767.2,929.9 767.5,927.9 767.9,925.9 768.3,924.0 768.6,922.0 769.0,920.0 769.3,918.1 769.7,916.1 770.1,914.1 770.4,912.2 770.8,910.2 771.1,908.2 771.5,906.3 771.8,904.3 772.2,902.3 772.5,900.4 772.9,898.4 773.2,896.4 773.6,894.5 773.9,892.5 774.3,890.5 774.6,888.6 774.9,886.6 775.3,884.6 775.6,882.7 775.9,880.7 776.3,878.7 776.6,876.7 776.9,874.8 777.3,872.8 777.6,870.8 777.9,868.9 778.3,866.9 778.6,864.9 778.9,862.9 779.2,861.0 779.5,859.0 779.9,857.0 780.2,855.1 780.5,853.1 780.8,851.1 781.1,849.1 781.4,847.2 781.8,845.2 782.1,843.2 782.4,841.2 782.7,839.3 783.0,837.3 783.3,835.3 783.6,833.3 783.9,831.4 784.2,829.4 784.5,827.4 784.8,825.4 785.1,823.5 785.4,821.5 785.7,819.5 786.0,817.5 786.3,815.6 786.6,813.6 786.9,811.6 787.2,809.6 787.5,807.6 787.8,805.7 788.1,803.7 788.4,801.7 788.7,799.7 789.0,797.8 789.3,795.8 789.5,793.8 789.8,791.8 790.1,789.8 790.4,787.9 790.7,785.9 791.0,783.9 791.2,781.9 791.5,780.0 791.8,778.0 792.1,776.0 792.4,774.0 792.6,772.0 792.9,770.1 793.2,768.1 793.5,766.1 793.7,764.1 794.0,762.1 794.3,760.2 794.6,758.2 794.8,756.2 795.1,754.2 795.4,752.2 795.6,750.3 795.9,748.3 796.2,746.3 796.5,744.3 796.7,742.3 797.0,740.4 797.3,738.4 797.5,736.4 797.8,734.4 798.0,732.4 798.3,730.4 798.6,728.5 798.8,726.5 799.1,724.5 799.4,722.5 799.6,720.5 799.9,718.6 800.1,716.6 800.4,714.6 800.7,712.6 800.9,710.6 801.2,708.6 801.4,706.7 801.7,704.7 801.9,702.7 802.2,700.7 802.5,698.7 802.7,696.8 803.0,694.8 803.2,692.8 803.5,690.8 803.7,688.8 804.0,686.8 804.2,684.9 804.5,682.9 804.7,680.9 805.0,678.9 805.2,676.9 805.5,674.9 805.7,673.0 806.0,671.0 806.2,669.0 806.5,667.0 806.7,665.0 807.0,663.0 807.2,661.1 807.5,659.1 807.7,657.1 808.0,655.1 808.2,653.1 808.5,651.2 808.7,649.2 809.0,647.2 809.2,645.2 809.5,643.2 809.7,641.2 810.0,639.3 810.2,637.3 810.5,635.3 810.7,633.3 811.0,631.3 811.2,629.3 811.5,627.4 811.7,625.4 812.0,623.4 812.2,621.4 812.4,619.4 812.7,617.4 812.9,615.5 813.2,613.5 813.4,611.5 813.7,609.5 813.9,607.5 814.2,605.5 814.4,603.6 814.7,601.6 814.9,599.6 815.2,597.6 815.4,595.6 815.7,593.6 815.9,591.7 816.2,589.7 816.4,587.7 816.7,585.7 816.9,583.7 817.2,581.7 817.4,579.8 817.7,577.8 817.9,575.8 818.2,573.8 818.4,571.8 818.7,569.8 818.9,567.9 819.2,565.9 819.4,563.9 819.7,561.9 819.9,559.9 820.2,557.9 820.5,556.0 820.7,554.0 821.0,552.0 821.2,550.0 821.5,548.0 821.7,546.1 822.0,544.1 822.2,542.1 822.5,540.1 822.8,538.1 823.0,536.1 823.3,534.2 823.5,532.2 823.8,530.2 824.1,528.2 824.3,526.2 824.6,524.3 824.9,522.3 825.1,520.3 825.4,518.3 825.7,516.3 825.9,514.3 826.2,512.4 826.5,510.4 826.7,508.4 827.0,506.4 827.3,504.4 827.5,502.5 827.8,500.5 828.1,498.5 828.3,496.5 828.6,494.5 828.9,492.6 829.2,490.6 829.4,488.6 829.7,486.6 830.0,484.6 830.3,482.7 830.6,480.7 830.8,478.7 831.1,476.7 831.4,474.8 831.7,472.8 832.0,470.8 832.3,468.8 832.5,466.8 832.8,464.9 833.1,462.9 833.4,460.9 833.7,458.9 834.0,456.9 834.3,455.0 834.6,453.0 834.9,451.0 835.2,449.0 835.5,447.1 835.7,445.1 836.0,443.1 836.3,441.1 836.6,439.2 836.9,437.2 837.3,435.2 837.6,433.2 837.9,431.3 838.2,429.3 838.5,427.3 838.8,425.3 839.1,423.4 839.4,421.4 839.7,419.4 840.0,417.4 840.3,415.5 840.7,413.5 841.0,411.5 841.3,409.5 841.6,407.6 841.9,405.6 842.3,403.6 842.6,401.7 842.9,399.7 843.2,397.7 843.6,395.7 843.9,393.8 844.2,391.8 844.6,389.8 844.9,387.9 845.2,385.9 845.6,383.9 845.9,381.9 846.2,380.0 846.6,378.0 846.9,376.0 847.3,374.1 847.6,372.1 848.0,370.1 848.3,368.2 848.7,366.2 849.0,364.2 849.4,362.3 849.7,360.3 850.1,358.3 850.4,356.4 850.8,354.4 851.2,352.4 851.5,350.5 851.9,348.5 852.3,346.5 852.6,344.6 853.0,342.6 853.4,340.6 853.8,338.7 854.1,336.7 854.5,334.8 854.9,332.8 855.3,330.8 855.6,328.9 856.0,326.9 856.4,324.9 856.8,323.0 857.2,321.0 857.6,319.1 858.0,317.1 858.4,315.1 858.8,313.2 859.2,311.2 859.6,309.3 860.0,307.3 860.4,305.4 860.8,303.4 861.2,301.4 861.7,299.5 862.1,297.5 862.5,295.6 862.9,293.6 863.4,291.7 863.8,289.7 864.2,287.8 864.7,285.8 865.1,283.9 865.6,281.9 866.0,280.0 866.5,278.0 867.0,276.1 867.4,274.2 867.9,272.2 868.4,270.3 868.9,268.3 869.4,266.4 869.9,264.5 870.3,262.5 870.9,260.6 871.4,258.7 871.9,256.7 872.4,254.8 872.9,252.9 873.4,250.9 874.0,249.0 874.5,247.1 875.1,245.2 875.7,243.3 876.3,241.4 876.9,239.5 877.5,237.6 878.2,235.7 878.9,233.8 879.6,231.9 880.4,230.1 881.2,228.3 882.0,226.5 882.9,224.7 883.9,222.9 884.9,221.2 885.9,219.5 887.0,217.8 888.1,216.2 889.4,214.6 890.6,213.0 891.9,211.5 893.3,210.1 894.8,208.8 896.4,207.5 898.0,206.4 899.8,205.4 901.7,204.7 903.6,204.4 905.6,204.4 907.6,204.8 909.4,205.5 911.2,206.5 912.8,207.6 914.4,208.8 915.9,210.2 917.3,211.6 918.6,213.1 919.9,214.6 921.2,216.2 922.4,217.8 923.5,219.4 924.6,221.1 925.7,222.8 926.7,224.5 927.7,226.2 928.6,228.0 929.5,229.8 930.4,231.6 931.2,233.4 932.0,235.2 932.8,237.1 933.5,238.9 934.2,240.8 935.0,242.7 935.6,244.5 936.3,246.4 937.0,248.3 937.6,250.2 938.3,252.1 938.9,254.0 939.6,255.9 940.2,257.8 940.9,259.7 941.5,261.6 942.1,263.4 942.8,265.3 943.4,267.2 944.0,269.1 944.6,271.0 945.3,272.9 945.9,274.8 946.5,276.7 947.1,278.6 947.7,280.5 948.3,282.5 948.9,284.4 949.5,286.3 950.1,288.2 950.7,290.1 951.3,292.0 951.9,293.9 952.5,295.8 953.1,297.7 953.7,299.6 954.3,301.5 954.9,303.4 955.5,305.4 956.0,307.3 956.6,309.2 957.2,311.1 957.8,313.0 958.3,314.9 958.9,316.8 959.5,318.8 960.0,320.7 960.6,322.6 961.2,324.5 961.7,326.4 962.3,328.3 962.9,330.3 963.4,332.2 964.0,334.1 964.5,336.0 965.1,337.9 965.7,339.9 966.2,341.8 966.8,343.7 967.3,345.6 967.9,347.5 968.4,349.5 969.0,351.4 969.5,353.3 970.1,355.2 970.6,357.1 971.1,359.1 971.7,361.0 972.2,362.9 972.8,364.8 973.3,366.8 973.9,368.7 974.4,370.6 974.9,372.5 975.5,374.5 976.0,376.4 976.5,378.3 977.1,380.2 977.6,382.2 978.2,384.1 978.7,386.0 979.2,387.9 979.8,389.9 980.3,391.8 980.8,393.7 981.3,395.7 981.9,397.6 982.4,399.5 982.9,401.4 983.5,403.4 984.0,405.3 984.5,407.2 985.0,409.1 985.6,411.1 986.1,413.0 986.6,414.9 987.1,416.9 987.6,418.8 988.2,420.7 988.7,422.7 989.2,424.6 989.7,426.5 990.3,428.4 990.8,430.4 991.3,432.3 991.8,434.2 992.3,436.2 992.8,438.1 993.4,440.0 993.9,442.0 994.4,443.9 994.9,445.8 995.4,447.7 995.9,449.7 996.5,451.6 997.0,453.5 997.5,455.5 998.0,457.4 998.5,459.3 999.0,461.3 999.5,463.2 1000.0,465.1 1000.6,467.1 1001.1,469.0 1001.6,470.9 1002.1,472.9 1002.6,474.8 1003.1,476.7 1003.6,478.7 1004.1,480.6 1004.6,482.5 1005.2,484.5 1005.7,486.4 1006.2,488.3 1006.7,490.3 1007.2,492.2 1007.7,494.1 1008.2,496.1 1008.7,498.0 1009.2,499.9 1009.7,501.8 1010.2,503.8 1010.8,505.7 1011.3,507.6 1011.8,509.6 1012.3,511.5 1012.8,513.4 1013.3,515.4 1013.8,517.3 1014.3,519.2 1014.8,521.2 1015.3,523.1 1015.8,525.0 1016.3,527.0 1016.9,528.9 1017.4,530.8 1017.9,532.8 1018.4,534.7 1018.9,536.6 1019.4,538.6 1019.9,540.5 1020.4,542.4 1020.9,544.4 1021.4,546.3 1022.0,548.2 1022.5,550.2 1023.0,552.1 1023.5,554.0 1024.0,556.0 1024.5,557.9 1025.0,559.8 1025.5,561.8 1026.0,563.7 1026.6,565.6 1027.1,567.6 1027.6,569.5 1028.1,571.4 1028.6,573.4 1029.1,575.3 1029.6,577.2 1030.2,579.1 1030.7,581.1 1031.2,583.0 1031.7,584.9 1032.2,586.9 1032.7,588.8 1033.3,590.7 1033.8,592.7 1034.3,594.6 1034.8,596.5 1035.3,598.4 1035.9,600.4 1036.4,602.3 1036.9,604.2 1037.4,606.2 1037.9,608.1 1038.5,610.0 1039.0,612.0 1039.5,613.9 1040.0,615.8 1040.6,617.7 1041.1,619.7 1041.6,621.6 1042.1,623.5 1042.7,625.5 1043.2,627.4 1043.7,629.3 1044.2,631.2 1044.8,633.2 1045.3,635.1 1045.8,637.0 1046.4,638.9 1046.9,640.9 1047.4,642.8 1048.0,644.7 1048.5,646.6 1049.0,648.6 1049.6,650.5 1050.1,652.4 1050.7,654.3 1051.2,656.3 1051.7,658.2 1052.3,660.1 1052.8,662.0 1053.4,664.0 1053.9,665.9 1054.5,667.8 1055.0,669.7 1055.5,671.7 1056.1,673.6 1056.6,675.5 1057.2,677.4 1057.7,679.3 1058.3,681.3 1058.8,683.2 1059.4,685.1 1060.0,687.0 1060.5,689.0 1061.1,690.9 1061.6,692.8 1062.2,694.7 1062.7,696.6 1063.3,698.5 1063.9,700.5 1064.4,702.4 1065.0,704.3 1065.5,706.2 1066.1,708.1 1066.7,710.1 1067.2,712.0 1067.8,713.9 1068.4,715.8 1069.0,717.7 1069.5,719.6 1070.1,721.5 1070.7,723.5 1071.2,725.4 1071.8,727.3 1072.4,729.2 1073.0,731.1 1073.5,733.0 1074.1,734.9 1074.7,736.9 1075.3,738.8 1075.9,740.7 1076.5,742.6 1077.0,744.5 1077.6,746.4 1078.2,748.3 1078.8,750.2 1079.4,752.1 1080.0,754.1 1080.6,756.0 1081.2,757.9 1081.8,759.8 1082.3,761.7 1082.9,763.6 1083.5,765.5 1084.1,767.4 1084.7,769.3 1085.3,771.2 1085.9,773.1 1086.5,775.0 1087.1,776.9 1087.7,778.9 1088.3,780.8 1088.9,782.7 1089.6,784.6 1090.2,786.5 1090.8,788.4 1091.4,790.3 1092.0,792.2 1092.6,794.1 1093.2,796.0 1093.8,797.9 1094.4,799.8 1095.1,801.7 1095.7,803.6 1096.3,805.5 1096.9,807.4 1097.5,809.3 1098.2,811.2 1098.8,813.1 1099.4,815.0 1100.0,816.9 1100.7,818.8 1101.3,820.7 1101.9,822.6 1102.6,824.5 1103.2,826.4 1103.8,828.3 1104.5,830.2 1105.1,832.1 1105.7,834.0 1106.4,835.8 1107.0,837.7 1107.6,839.6 1108.3,841.5 1108.9,843.4 1109.6,845.3 1110.2,847.2 1110.9,849.1 1111.5,851.0 1112.2,852.9 1112.8,854.8 1113.5,856.7 1114.1,858.5 1114.8,860.4 1115.4,862.3 1116.1,864.2 1116.7,866.1 1117.4,868.0 1118.0,869.9 1118.7,871.8 1119.4,873.6 1120.0,875.5 1120.7,877.4 1121.4,879.3 1122.0,881.2 1122.7,883.1 1123.4,885.0 1124.0,886.8 1124.7,888.7 1125.4,890.6 1126.1,892.5 1126.8,894.4 1127.4,896.2 1128.1,898.1 1128.8,900.0 1129.5,901.9 1130.2,903.7 1130.9,905.6 1131.6,907.5 1132.3,909.3 1133.0,911.2 1133.7,913.1 1134.4,914.9 1135.2,916.8 1135.9,918.7 1136.6,920.5 1137.3,922.4 1138.1,924.3 1138.8,926.1 1139.5,928.0 1140.3,929.8 1141.0,931.7 1141.7,933.6 1142.5,935.4 1143.3,937.3 1144.0,939.1 1144.8,941.0 1145.5,942.8 1146.3,944.6 1147.1,946.5 1147.9,948.3 1148.6,950.2 1149.4,952.0 1150.2,953.8 1151.0,955.7 1151.8,957.5 1152.6,959.3 1153.4,961.2 1154.2,963.0 1155.1,964.8 1155.9,966.6 1156.7,968.5 1157.5,970.3 1158.4,972.1 1159.2,973.9 1160.1,975.7 1160.9,977.5 1161.8,979.3 1162.6,981.1 1163.5,982.9 1164.4,984.7 1165.3,986.5 1166.1,988.3 1167.0,990.1 1167.9,991.9 1168.8,993.7 1169.7,995.5 1170.6,997.2 1171.6,999.0 1172.5,1000.8 1173.4,1002.5 1174.4,1004.3 1175.3,1006.1 1176.2,1007.8 1177.2,1009.6 1178.2,1011.3 1179.1,1013.1 1180.1,1014.8 1181.1,1016.6 1182.1,1018.3 1183.1,1020.1 1184.1,1021.8 1185.1,1023.5 1186.1,1025.2 1187.1,1027.0 1188.1,1028.7 1189.1,1030.4 1190.2,1032.1 1191.2,1033.8 1192.3,1035.5 1193.3,1037.2 1194.4,1038.9 1195.5,1040.6 1196.5,1042.3 1197.6,1043.9 1198.7,1045.6 1199.8,1047.3 1200.9,1049.0 1202.0,1050.6 1203.1,1052.3 1204.2,1053.9 1205.4,1055.6 1206.5,1057.2 1207.7,1058.9 1208.8,1060.5 1210.0,1062.1 1211.1,1063.8 1212.3,1065.4 1213.5,1067.0 1214.6,1068.6 1215.8,1070.2 1217.0,1071.8 1218.2,1073.4 1219.4,1075.0 1220.7,1076.6 1221.9,1078.2 1223.1,1079.8 1224.3,1081.3 1225.6,1082.9 1226.8,1084.5 1228.1,1086.0 1229.4,1087.6 1230.6,1089.1 1231.9,1090.6 1233.2,1092.2 1234.5,1093.7 1235.8,1095.2 1237.1,1096.7 1238.4,1098.2 1239.7,1099.7 1241.0,1101.2 1242.4,1102.7 1243.7,1104.2 1245.1,1105.7 1246.4,1107.2 1247.8,1108.6 1249.1,1110.1 1250.5,1111.5 1251.9,1113.0 1253.3,1114.4 1254.7,1115.8 1256.1,1117.3 1257.5,1118.7 1258.9,1120.1 1260.3,1121.5 1261.8,1122.9 1263.2,1124.3 1264.7,1125.7 1266.1,1127.0 1267.6,1128.4 1269.0,1129.7 1270.5,1131.1 1272.0,1132.4 1273.5,1133.8 1275.0,1135.1 1276.5,1136.4 1278.0,1137.7 1279.5,1139.0 1281.0,1140.3 1282.6,1141.6 1284.1,1142.9 1285.6,1144.1 1287.2,1145.4 1288.8,1146.6 1290.3,1147.9 1291.9,1149.1 1293.5,1150.3 1295.1,1151.6 1296.7,1152.8 1298.3,1154.0 1299.9,1155.1 1301.5,1156.3 1303.1,1157.5 1304.7,1158.6 1306.4,1159.8 1308.0,1160.9 1309.7,1162.0 1311.3,1163.2 1313.0,1164.3 1314.7,1165.4 1316.3,1166.5 1318.0,1167.5 1319.7,1168.6 1321.4,1169.6 1323.1,1170.7 1324.8,1171.7 1326.6,1172.7 1328.3,1173.8 1330.0,1174.8 1331.7,1175.7 1333.5,1176.7 1335.2,1177.7 1337.0,1178.6 1338.8,1179.6 1340.5,1180.5 1342.3,1181.4 1344.1,1182.3 1345.9,1183.2 1347.7,1184.1 1349.5,1185.0 1351.3,1185.9 1353.1,1186.7 1354.9,1187.6 1356.7,1188.4 1358.5,1189.2 1360.4,1190.0 1362.2,1190.8 1364.0,1191.6 1365.9,1192.4 1367.7,1193.1 1369.6,1193.9 1371.4,1194.6 1373.3,1195.4 1375.1,1196.1 1377.0,1196.8 1378.9,1197.5 1380.8,1198.2 1382.6,1198.9 1384.5,1199.5 1386.4,1200.2 1388.3,1200.9 1390.2,1201.5 1392.1,1202.1 1394.0,1202.8 1395.9,1203.4 1397.8,1204.0 1399.7,1204.6 1401.6,1205.2 1403.5,1205.8 1405.4,1206.3 1407.3,1206.9 1409.3,1207.5 1411.2,1208.0 1413.1,1208.5 1415.0,1209.1 1417.0,1209.6 1418.9,1210.1 1420.8,1210.6 1422.8,1211.1 1424.7,1211.6 1426.6,1212.1 1428.6,1212.6 1430.5,1213.0 1432.5,1213.5 1434.4,1213.9 1436.4,1214.4 1438.3,1214.8 1440.3,1215.2 1442.2,1215.7 1444.2,1216.1 1446.1,1216.5 1448.1,1216.9 1450.1,1217.3 1452.0,1217.7 1454.0,1218.0 1455.9,1218.4 1457.9,1218.8 1459.9,1219.1 1461.8,1219.5 1463.8,1219.8 1465.8,1220.2 1467.8,1220.5 1469.7,1220.8 1471.7,1221.1 1473.7,1221.5 1475.7,1221.8 1477.6,1222.1 1479.6,1222.4 1481.6,1222.7 1483.6,1222.9 1485.5,1223.2 1487.5,1223.5 1489.5,1223.8 1491.5,1224.0 1493.5,1224.3 1495.4,1224.5 1497.4,1224.8 1499.4,1225.0 1501.4,1225.2 1503.4,1225.5 1505.4,1225.7 1507.4,1225.9 1509.3,1226.1 1511.3,1226.3 1513.3,1226.5 1515.3,1226.7 1517.3,1226.9 1519.3,1227.1 1521.3,1227.3 1523.3,1227.5 1525.3,1227.7 1527.2,1227.9 1529.2,1228.0 1531.2,1228.2 1533.2,1228.4 1535.2,1228.5 1537.2,1228.7 1539.2,1228.8 1541.2,1229.0 1543.2,1229.1 1545.2,1229.2 1547.2,1229.4 1549.2,1229.5 1551.2,1229.6 1553.2,1229.8 1555.2,1229.9 1557.2,1230.0 1559.1,1230.1 1561.1,1230.2 1563.1,1230.4 1565.1,1230.5 1567.1,1230.6 1569.1,1230.7 1571.1,1230.8 1573.1,1230.9 1575.1,1231.0 1577.1,1231.1 1579.1,1231.2 1581.1,1231.2 1583.1,1231.3 1585.1,1231.4 1587.1,1231.5 1589.1,1231.6 1591.1,1231.7 1593.1,1231.7 1595.1,1231.8 1597.1,1231.9 1599.1,1232.0 1601.1,1232.0 1603.1,1232.1 1605.1,1232.2 1607.1,1232.2 1609.1,1232.3 1611.1,1232.4 1613.1,1232.4 1615.1,1232.5 1617.1,1232.5 1619.1,1232.6 1621.1,1232.7 1623.0,1232.7 1625.0,1232.8 1627.0,1232.8 1629.0,1232.9 1631.0,1232.9 1633.0,1233.0 1635.0,1233.0 1637.0,1233.1 1639.0,1233.1 1641.0,1233.2 1643.0,1233.2 1645.0,1233.3 1647.0,1233.3 1649.0,1233.4 1651.0,1233.4 1653.0,1233.5 1655.0,1233.5 1657.0,1233.5 1659.0,1233.6 1661.0,1233.6 1663.0,1233.7 1665.0,1233.7 1667.0,1233.7 1669.0,1233.8 1671.0,1233.8 1673.0,1233.9 1675.0,1233.9 1677.0,1233.9 1679.0,1234.0 1681.0,1234.0 1683.0,1234.1 1685.0,1234.1 1687.0,1234.2 1689.0,1234.2 1691.0,1234.2 1693.0,1234.3 1695.0,1234.3 1697.0,1234.4 1699.0,1234.4 1701.0,1234.4 1703.0,1234.5 1705.0,1234.5 1707.0,1234.6 1709.0,1234.6 1711.0,1234.7" fill="none" stroke="#F04040" stroke-width="6.5" stroke-linejoin="round"/>
<rect x="432.9" y="1224.2" width="24" height="24" fill="#F04040"/><rect x="517.3" y="1224.2" width="24" height="24" fill="#F04040"/><rect x="601.7" y="1221.0" width="24" height="24" fill="#F04040"/><rect x="686.0" y="1163.9" width="24" height="24" fill="#F04040"/><rect x="770.4" y="824.8" width="24" height="24" fill="#F04040"/><rect x="854.8" y="264.5" width="24" height="24" fill="#F04040"/><rect x="939.2" y="278.6" width="24" height="24" fill="#F04040"/><rect x="1023.5" y="590.0" width="24" height="24" fill="#F04040"/><rect x="1107.9" y="863.9" width="24" height="24" fill="#F04040"/><rect x="1192.3" y="1041.4" width="24" height="24" fill="#F04040"/><rect x="1276.6" y="1135.0" width="24" height="24" fill="#F04040"/><rect x="1361.0" y="1183.1" width="24" height="24" fill="#F04040"/><rect x="1445.4" y="1207.0" width="24" height="24" fill="#F04040"/><rect x="1529.8" y="1217.2" width="24" height="24" fill="#F04040"/><rect x="1614.1" y="1220.8" width="24" height="24" fill="#F04040"/><rect x="1698.5" y="1222.7" width="24" height="24" fill="#F04040"/>
<line x1="904.7528571428571" y1="1236.5" x2="1711" y2="1236.5" stroke="#F04040" stroke-width="6.5"/>
<circle cx="909.0" cy="1236.0" r="13.2" fill="#F04040"/><circle cx="993.3" cy="1236.0" r="13.2" fill="#F04040"/><circle cx="1077.7" cy="1236.0" r="13.2" fill="#F04040"/><circle cx="1162.1" cy="1236.0" r="13.2" fill="#F04040"/><circle cx="1246.5" cy="1236.0" r="13.2" fill="#F04040"/><circle cx="1330.8" cy="1236.0" r="13.2" fill="#F04040"/><circle cx="1415.2" cy="1236.0" r="13.2" fill="#F04040"/><circle cx="1499.6" cy="1236.0" r="13.2" fill="#F04040"/><circle cx="1583.9" cy="1236.0" r="13.2" fill="#F04040"/><circle cx="1668.3" cy="1236.0" r="13.2" fill="#F04040"/>
</g>
<g stroke="#000" fill="none"><line x1="231" y1="1236.5" x2="1713" y2="1236.5" stroke-width="5"/><line x1="234.0" y1="1236.5" x2="234.0" y2="1260" stroke-width="6"/><line x1="339.5" y1="1236.5" x2="339.5" y2="1248" stroke-width="6"/><line x1="444.9" y1="1236.5" x2="444.9" y2="1260" stroke-width="6"/><line x1="550.4" y1="1236.5" x2="550.4" y2="1248" stroke-width="6"/><line x1="655.9" y1="1236.5" x2="655.9" y2="1260" stroke-width="6"/><line x1="761.3" y1="1236.5" x2="761.3" y2="1248" stroke-width="6"/><line x1="866.8" y1="1236.5" x2="866.8" y2="1260" stroke-width="6"/><line x1="972.2" y1="1236.5" x2="972.2" y2="1248" stroke-width="6"/><line x1="1077.7" y1="1236.5" x2="1077.7" y2="1260" stroke-width="6"/><line x1="1183.2" y1="1236.5" x2="1183.2" y2="1248" stroke-width="6"/><line x1="1288.6" y1="1236.5" x2="1288.6" y2="1260" stroke-width="6"/><line x1="1394.1" y1="1236.5" x2="1394.1" y2="1248" stroke-width="6"/><line x1="1499.6" y1="1236.5" x2="1499.6" y2="1260" stroke-width="6"/><line x1="1605.0" y1="1236.5" x2="1605.0" y2="1248" stroke-width="6"/><line x1="1710.5" y1="1236.5" x2="1710.5" y2="1260" stroke-width="6"/></g><g stroke="#505050" fill="none"><line x1="234" y1="48" x2="234" y2="1239" stroke-width="6"/><line x1="210" y1="1236.5" x2="234" y2="1236.5" stroke-width="5"/><line x1="222" y1="1128.7" x2="234" y2="1128.7" stroke-width="5"/><line x1="210" y1="1020.9" x2="234" y2="1020.9" stroke-width="5"/><line x1="222" y1="913.0" x2="234" y2="913.0" stroke-width="5"/><line x1="210" y1="805.2" x2="234" y2="805.2" stroke-width="5"/><line x1="222" y1="697.4" x2="234" y2="697.4" stroke-width="5"/><line x1="210" y1="589.6" x2="234" y2="589.6" stroke-width="5"/><line x1="222" y1="481.8" x2="234" y2="481.8" stroke-width="5"/><line x1="210" y1="374.0" x2="234" y2="374.0" stroke-width="5"/><line x1="222" y1="266.1" x2="234" y2="266.1" stroke-width="5"/><line x1="210" y1="158.3" x2="234" y2="158.3" stroke-width="5"/><line x1="222" y1="50.5" x2="234" y2="50.5" stroke-width="5"/></g><g stroke="#000" fill="none"><line x1="231" y1="50.5" x2="1713" y2="50.5" stroke-width="5"/><line x1="234.0" y1="50.5" x2="234.0" y2="74" stroke-width="6"/><line x1="339.5" y1="50.5" x2="339.5" y2="62.5" stroke-width="6"/><line x1="444.9" y1="50.5" x2="444.9" y2="74" stroke-width="6"/><line x1="550.4" y1="50.5" x2="550.4" y2="62.5" stroke-width="6"/><line x1="655.9" y1="50.5" x2="655.9" y2="74" stroke-width="6"/><line x1="761.3" y1="50.5" x2="761.3" y2="62.5" stroke-width="6"/><line x1="866.8" y1="50.5" x2="866.8" y2="74" stroke-width="6"/><line x1="972.2" y1="50.5" x2="972.2" y2="62.5" stroke-width="6"/><line x1="1077.7" y1="50.5" x2="1077.7" y2="74" stroke-width="6"/><line x1="1183.2" y1="50.5" x2="1183.2" y2="62.5" stroke-width="6"/><line x1="1288.6" y1="50.5" x2="1288.6" y2="74" stroke-width="6"/><line x1="1394.1" y1="50.5" x2="1394.1" y2="62.5" stroke-width="6"/><line x1="1499.6" y1="50.5" x2="1499.6" y2="74" stroke-width="6"/><line x1="1605.0" y1="50.5" x2="1605.0" y2="62.5" stroke-width="6"/><line x1="1710.5" y1="50.5" x2="1710.5" y2="74" stroke-width="6"/></g><g stroke="#F04040" fill="none"><line x1="1710.5" y1="48" x2="1710.5" y2="1239" stroke-width="5"/><line x1="1710.5" y1="1236.5" x2="1735" y2="1236.5" stroke-width="5"/><line x1="1710.5" y1="1151.8" x2="1723" y2="1151.8" stroke-width="5"/><line x1="1710.5" y1="1067.1" x2="1735" y2="1067.1" stroke-width="5"/><line x1="1710.5" y1="982.4" x2="1723" y2="982.4" stroke-width="5"/><line x1="1710.5" y1="897.6" x2="1735" y2="897.6" stroke-width="5"/><line x1="1710.5" y1="812.9" x2="1723" y2="812.9" stroke-width="5"/><line x1="1710.5" y1="728.2" x2="1735" y2="728.2" stroke-width="5"/><line x1="1710.5" y1="643.5" x2="1723" y2="643.5" stroke-width="5"/><line x1="1710.5" y1="558.8" x2="1735" y2="558.8" stroke-width="5"/><line x1="1710.5" y1="474.1" x2="1723" y2="474.1" stroke-width="5"/><line x1="1710.5" y1="389.4" x2="1735" y2="389.4" stroke-width="5"/><line x1="1710.5" y1="304.6" x2="1723" y2="304.6" stroke-width="5"/><line x1="1710.5" y1="219.9" x2="1735" y2="219.9" stroke-width="5"/><line x1="1710.5" y1="135.2" x2="1723" y2="135.2" stroke-width="5"/><line x1="1710.5" y1="50.5" x2="1735" y2="50.5" stroke-width="5"/></g>
<text transform="translate(195.00,1251.80) scale(1,1.04)" font-size="50" fill="#505050" text-anchor="end">0.0</text><text transform="translate(195.00,1036.16) scale(1,1.04)" font-size="50" fill="#505050" text-anchor="end">0.2</text><text transform="translate(195.00,820.53) scale(1,1.04)" font-size="50" fill="#505050" text-anchor="end">0.4</text><text transform="translate(195.00,604.89) scale(1,1.04)" font-size="50" fill="#505050" text-anchor="end">0.6</text><text transform="translate(195.00,389.25) scale(1,1.04)" font-size="50" fill="#505050" text-anchor="end">0.8</text><text transform="translate(195.00,173.62) scale(1,1.04)" font-size="50" fill="#505050" text-anchor="end">1.0</text><text transform="translate(234.00,1315.00) scale(1,1.04)" font-size="50" fill="#000" text-anchor="middle">350</text><text transform="translate(444.93,1315.00) scale(1,1.04)" font-size="50" fill="#000" text-anchor="middle">400</text><text transform="translate(655.86,1315.00) scale(1,1.04)" font-size="50" fill="#000" text-anchor="middle">450</text><text transform="translate(866.79,1315.00) scale(1,1.04)" font-size="50" fill="#000" text-anchor="middle">500</text><text transform="translate(1077.71,1315.00) scale(1,1.04)" font-size="50" fill="#000" text-anchor="middle">550</text><text transform="translate(1288.64,1315.00) scale(1,1.04)" font-size="50" fill="#000" text-anchor="middle">600</text><text transform="translate(1499.57,1315.00) scale(1,1.04)" font-size="50" fill="#000" text-anchor="middle">650</text><text transform="translate(1710.50,1315.00) scale(1,1.04)" font-size="50" fill="#000" text-anchor="middle">700</text><text transform="translate(1750.00,1251.20) scale(1,1.04)" font-size="50" fill="#F04040">0</text><text transform="translate(1750.00,1081.77) scale(1,1.04)" font-size="50" fill="#F04040">500</text><text transform="translate(1750.00,912.34) scale(1,1.04)" font-size="50" fill="#F04040">1000</text><text transform="translate(1750.00,742.91) scale(1,1.04)" font-size="50" fill="#F04040">1500</text><text transform="translate(1750.00,573.49) scale(1,1.04)" font-size="50" fill="#F04040">2000</text><text transform="translate(1750.00,404.06) scale(1,1.04)" font-size="50" fill="#F04040">2500</text><text transform="translate(1750.00,234.63) scale(1,1.04)" font-size="50" fill="#F04040">3000</text><text transform="translate(1750.00,65.20) scale(1,1.04)" font-size="50" fill="#F04040">3500</text>
<text transform="translate(83.40,808.50) rotate(-90) scale(1,1.04)" font-size="61.5" fill="#000">Absorbance</text>
<text transform="translate(667.50,1409.60) scale(1,1.04)" font-size="61.5" fill="#000">Wavelength (nm)</text>
<text transform="translate(1931.00,948.50) rotate(-90) scale(1,1.04)" font-size="61.5" fill="#000">Fluorescence intensity</text>
<line x1="1255" y1="212.5" x2="1386" y2="212.5" stroke="#505050" stroke-width="6.7"/><rect x="1309" y="200.5" width="24" height="24" fill="#505050"/><text transform="translate(1401.70,232.20) scale(1,1.04)" font-size="58" fill="#000" letter-spacing="1.1">4O</text><line x1="1255" y1="283.3" x2="1386" y2="283.3" stroke="#505050" stroke-width="6.7"/><circle cx="1320.5" cy="283.3" r="12.8" fill="#505050"/><text transform="translate(1401.70,303.00) scale(1,1.04)" font-size="58" fill="#000" letter-spacing="1.1">4S</text><line x1="1255" y1="354.9" x2="1386" y2="354.9" stroke="#F04040" stroke-width="5.5"/><rect x="1309" y="342.9" width="24" height="24" fill="#F04040"/><text transform="translate(1401.70,374.60) scale(1,1.04)" font-size="58" fill="#000" letter-spacing="1.1">4O</text><line x1="1255" y1="426.3" x2="1386" y2="426.3" stroke="#F04040" stroke-width="6.6"/><circle cx="1320.5" cy="426.3" r="12.8" fill="#F04040"/><text transform="translate(1401.70,446.00) scale(1,1.04)" font-size="58" fill="#000" letter-spacing="1.1">4S</text>
</svg>
</body></html>
